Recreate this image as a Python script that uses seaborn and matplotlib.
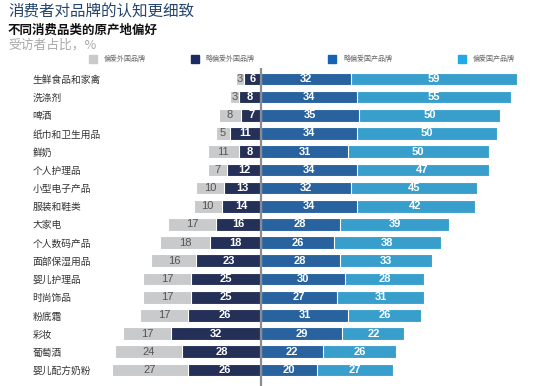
import pandas as pd
import seaborn as sns
import matplotlib.pyplot as plt
from matplotlib.patches import Rectangle

# Data
categories = ["生鲜食品和家禽", "洗涤剂", "啤酒", "纸巾和卫生用品", "鲜奶", "个人护理品",
              "小型电子产品", "服装和鞋类", "大家电", "个人数码产品", "面部保湿用品",
              "婴儿护理品", "时尚饰品", "粉底霜", "彩妆", "葡萄酒", "婴儿配方奶粉"]
foreign = [3, 3, 8, 5, 11, 7, 10, 10, 17, 18, 16, 17, 17, 17, 17, 24, 27]
slight_foreign = [6, 8, 7, 11, 8, 12, 13, 14, 16, 18, 23, 25, 25, 26, 32, 28, 26]
slight_domestic = [32, 34, 35, 34, 31, 34, 32, 34, 28, 26, 28, 30, 27, 31, 29, 22, 20]
domestic = [59, 55, 50, 50, 50, 47, 45, 42, 39, 38, 33, 28, 31, 26, 22, 26, 27]
legend_labels = ["偏爱外国品牌", "略偏爱外国品牌", "略偏爱国产品牌", "偏爱国产品牌"]

c_gray = "#c9cacc"
c_navy = "#1b2c5f"
c_mid = "#1563b3"
c_light = "#1fa9e6"

sns.set_style("white")
plt.rcParams['font.family'] = ['Noto Sans CJK SC', 'DejaVu Sans']

df = pd.DataFrame({
    "cat": categories,
    "left_total": [-(a + b) for a, b in zip(foreign, slight_foreign)],
    "left_inner": [-b for b in slight_foreign],
    "right_total": [a + b for a, b in zip(slight_domestic, domestic)],
    "right_inner": slight_domestic,
})

fig = plt.figure(figsize=(5.54, 3.86), dpi=100)
ax = fig.add_axes([100 / 554, 0, 440 / 554, 318 / 386])

# stacked diverging bars: draw the totals first, inner segments on top
kw = dict(y="cat", orient="h", width=0.7, ax=ax, linewidth=0.8, edgecolor="white")
sns.barplot(data=df, x="left_total", color=c_gray, **kw)
sns.barplot(data=df, x="left_inner", color=c_navy, **kw)
sns.barplot(data=df, x="right_total", color=c_light, **kw)
sns.barplot(data=df, x="right_inner", color=c_mid, **kw)

ax.set_xlim(-57.3, 99.3)
ax.set_ylim(16.88, -0.6)
ax.axvline(0, color="#8a8c94", lw=1.6, zorder=5)

num_font = dict(family="Liberation Sans", fontsize=8, va="center", ha="center")
for i in range(len(categories)):
    f, sf, sd, d = foreign[i], slight_foreign[i], slight_domestic[i], domestic[i]
    ax.text(-sf - f / 2, i, str(f), color="#555555", **num_font)
    ax.text(-sf / 2, i, str(sf), color="white", fontweight="bold", **num_font)
    ax.text(sd / 2, i, str(sd), color="white", fontweight="bold", **num_font)
    ax.text(sd + d / 2, i, str(d), color="white", fontweight="bold", **num_font)

ax.set_xlabel("")
ax.set_ylabel("")
ax.set_xticks([])
ax.set_yticks(range(len(categories)))
ax.set_yticklabels(categories, ha="left", fontsize=7, color="#333333")
ax.tick_params(axis="y", length=0, pad=48.5)
sns.despine(ax=ax, left=True, bottom=True)

# titles
fig.text(8 / 554, 1 - 12 / 386, "消费者对品牌的认知更细致", fontsize=11.2,
         color="#26466d", va="center", ha="left")
fig.text(8 / 554, 1 - 30 / 386, "不同消费品类的原产地偏好", fontsize=9,
         fontweight="bold", color="#111111", va="center", ha="left")
fig.text(8 / 554, 1 - 45 / 386, "受访者占比，%", fontsize=9.2,
         color="#a8a8a8", va="center", ha="left")

# legend
for x0, col, lab in zip([93, 195, 332, 462], [c_gray, c_navy, c_mid, c_light], legend_labels):
    fig.patches.append(Rectangle(((x0 - 4) / 554, 1 - 63 / 386), 8 / 554, 8 / 386,
                                 transform=fig.transFigure, color=col, figure=fig))
    fig.text((x0 + 11) / 554, 1 - 59 / 386, lab, fontsize=5, color="#666666",
             va="center", ha="left")

fig.savefig("out.png", dpi=100)
